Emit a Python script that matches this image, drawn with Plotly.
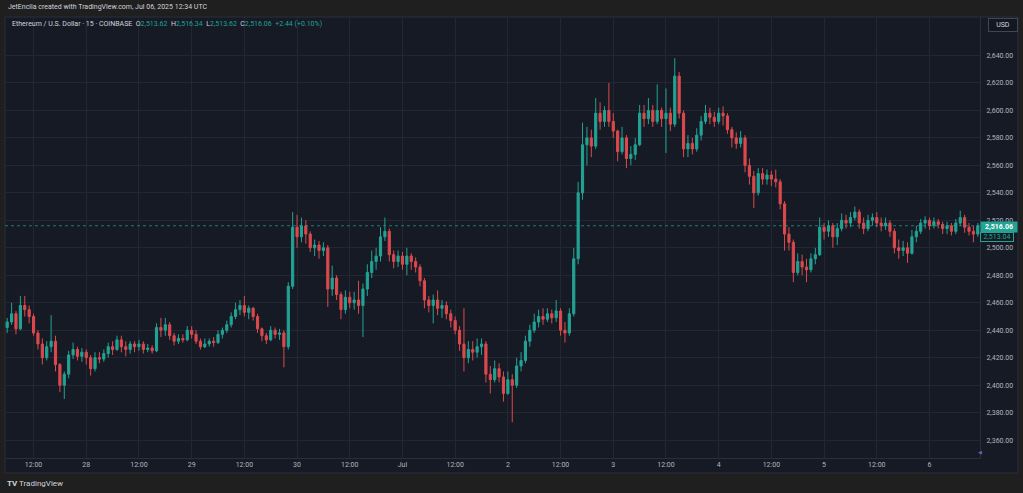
import pandas as pd
import plotly.graph_objects as go

# ETH/USD, COINBASE, resampled to 1h bars
start = "2025-06-27 06:00"

opens = [
    2442, 2446, 2452, 2441, 2458, 2455, 2450, 2438, 2430, 2420, 2428, 2432, 2415, 2400, 2408, 2422, 2426, 2421,  # Jun 27
    2424, 2420, 2412, 2420, 2419, 2423, 2428, 2426, 2433, 2428, 2426, 2430, 2428, 2430, 2426, 2427, 2425, 2442, 2440, 2444, 2436, 2432, 2434, 2433,  # Jun 28
    2440, 2437, 2432, 2428, 2430, 2432, 2431, 2437, 2440, 2444, 2450, 2455, 2458, 2453, 2456, 2450, 2441, 2436, 2433, 2440, 2437, 2438, 2428, 2472,  # Jun 29
    2515, 2508, 2516, 2510, 2500, 2502, 2498, 2500, 2470, 2478, 2466, 2455, 2464, 2460, 2462, 2458, 2470, 2482, 2490, 2494, 2508, 2512, 2495, 2490,  # Jun 30
    2494, 2488, 2494, 2490, 2486, 2476, 2462, 2458, 2462, 2456, 2458, 2452, 2447, 2440, 2430, 2420, 2426, 2424, 2428, 2430, 2408, 2404, 2412, 2406,  # Jul 1
    2394, 2404, 2400, 2414, 2418, 2432, 2440, 2446, 2450, 2448, 2452, 2449, 2454, 2440, 2438, 2452, 2492, 2540, 2575, 2580, 2574, 2598, 2592, 2600,  # Jul 2
    2592, 2585, 2570, 2580, 2565, 2568, 2575, 2598, 2594, 2600, 2592, 2600, 2594, 2598, 2590, 2625, 2598, 2572, 2576, 2572, 2582, 2592, 2598, 2595,  # Jul 3
    2592, 2598, 2596, 2586, 2580, 2576, 2580, 2560, 2552, 2540, 2554, 2550, 2553, 2550, 2548, 2532, 2510, 2504, 2482, 2490, 2486, 2484, 2492, 2495,  # Jul 4
    2515, 2512, 2516, 2508, 2514, 2520, 2518, 2522, 2526, 2518, 2514, 2520, 2522, 2518, 2516, 2518, 2512, 2500, 2498, 2500, 2496, 2508, 2512, 2518,  # Jul 5
    2520, 2516, 2519, 2517, 2514, 2516, 2512, 2518, 2522, 2515, 2512, 2510,  # Jul 6
]
highs = [
    2449, 2460, 2454, 2465, 2465, 2458, 2452, 2440, 2434, 2432, 2451, 2436, 2416, 2410, 2425, 2431, 2428, 2427,
    2426, 2422, 2424, 2424, 2426, 2431, 2432, 2436, 2436, 2432, 2432, 2432, 2433, 2432, 2430, 2429, 2445, 2449, 2449, 2446, 2438, 2437, 2437, 2443,
    2443, 2440, 2434, 2434, 2434, 2435, 2440, 2442, 2447, 2453, 2460, 2462, 2465, 2458, 2457, 2452, 2442, 2438, 2443, 2442, 2441, 2440, 2475, 2526,
    2524, 2522, 2520, 2512, 2506, 2505, 2504, 2502, 2487, 2480, 2468, 2469, 2468, 2468, 2476, 2474, 2488, 2498, 2500, 2515, 2522, 2514, 2498, 2498,
    2497, 2500, 2496, 2493, 2488, 2478, 2465, 2466, 2469, 2462, 2461, 2455, 2450, 2443, 2456, 2432, 2432, 2434, 2434, 2432, 2414, 2418, 2416, 2410,
    2410, 2408, 2420, 2424, 2436, 2444, 2452, 2455, 2456, 2456, 2455, 2462, 2456, 2446, 2456, 2500, 2548, 2591, 2588, 2586, 2609, 2606, 2603, 2620,
    2598, 2586, 2588, 2582, 2574, 2580, 2604, 2604, 2609, 2604, 2619, 2602, 2616, 2602, 2638, 2628, 2600, 2582, 2580, 2587, 2596, 2604, 2602, 2599,
    2602, 2603, 2598, 2588, 2584, 2585, 2582, 2565, 2556, 2558, 2558, 2557, 2556, 2557, 2550, 2534, 2515, 2506, 2496, 2495, 2492, 2496, 2500, 2522,
    2518, 2520, 2518, 2518, 2525, 2524, 2526, 2530, 2528, 2522, 2524, 2525, 2526, 2522, 2522, 2520, 2514, 2506, 2505, 2504, 2513, 2516, 2521, 2523,
    2522, 2522, 2521, 2519, 2519, 2518, 2521, 2527, 2524, 2518, 2516, 2518,
]
lows = [
    2438, 2444, 2437, 2440, 2450, 2445, 2436, 2426, 2415, 2418, 2424, 2410, 2395, 2390, 2405, 2419, 2418, 2417,
    2415, 2407, 2410, 2416, 2417, 2420, 2422, 2425, 2424, 2421, 2423, 2424, 2425, 2423, 2424, 2423, 2424, 2435, 2436, 2433, 2429, 2430, 2431, 2432,
    2434, 2430, 2426, 2427, 2428, 2428, 2430, 2434, 2438, 2442, 2448, 2451, 2450, 2448, 2447, 2438, 2432, 2430, 2432, 2434, 2433, 2413, 2426, 2470,
    2500, 2504, 2503, 2497, 2494, 2492, 2494, 2457, 2465, 2462, 2448, 2452, 2456, 2455, 2452, 2435, 2465, 2478, 2484, 2490, 2505, 2490, 2485, 2486,
    2484, 2480, 2484, 2482, 2472, 2456, 2453, 2445, 2451, 2449, 2448, 2442, 2437, 2425, 2410, 2416, 2418, 2420, 2422, 2402, 2394, 2402, 2402, 2388,
    2393, 2373, 2398, 2410, 2416, 2428, 2438, 2442, 2444, 2446, 2445, 2446, 2436, 2431, 2436, 2450, 2488, 2535, 2560, 2566, 2572, 2586, 2588, 2588,
    2580, 2563, 2568, 2558, 2560, 2564, 2574, 2588, 2590, 2588, 2590, 2588, 2569, 2585, 2588, 2594, 2566, 2566, 2568, 2570, 2578, 2590, 2590, 2588,
    2590, 2589, 2583, 2573, 2572, 2573, 2555, 2546, 2529, 2538, 2546, 2546, 2545, 2544, 2528, 2498, 2498, 2475, 2480, 2480, 2475, 2482, 2488, 2494,
    2506, 2508, 2500, 2502, 2512, 2514, 2515, 2520, 2514, 2510, 2512, 2516, 2515, 2512, 2513, 2508, 2496, 2492, 2494, 2489, 2495, 2504, 2510, 2514,
    2513, 2514, 2514, 2510, 2510, 2509, 2510, 2516, 2511, 2509, 2504, 2508,
]
closes = [
    2446, 2452, 2441, 2458, 2455, 2450, 2438, 2430, 2420, 2428, 2432, 2415, 2400, 2408, 2422, 2426, 2421, 2424,
    2420, 2412, 2420, 2419, 2423, 2428, 2426, 2433, 2428, 2426, 2430, 2428, 2430, 2426, 2427, 2425, 2442, 2440, 2444, 2436, 2432, 2434, 2433, 2440,
    2437, 2432, 2428, 2430, 2432, 2431, 2437, 2440, 2444, 2450, 2455, 2458, 2453, 2456, 2450, 2441, 2436, 2433, 2440, 2437, 2438, 2428, 2472, 2515,
    2508, 2516, 2510, 2500, 2502, 2498, 2500, 2470, 2478, 2466, 2455, 2464, 2460, 2462, 2458, 2470, 2482, 2490, 2494, 2508, 2512, 2495, 2490, 2494,
    2488, 2494, 2490, 2486, 2476, 2462, 2458, 2462, 2456, 2458, 2452, 2447, 2440, 2430, 2420, 2426, 2424, 2428, 2430, 2408, 2404, 2412, 2406, 2394,
    2404, 2400, 2414, 2418, 2432, 2440, 2446, 2450, 2448, 2452, 2449, 2454, 2440, 2438, 2452, 2492, 2540, 2575, 2580, 2574, 2598, 2592, 2600, 2592,
    2585, 2570, 2580, 2565, 2568, 2575, 2598, 2594, 2600, 2592, 2600, 2594, 2598, 2590, 2625, 2598, 2572, 2576, 2572, 2582, 2592, 2598, 2595, 2592,
    2598, 2596, 2586, 2580, 2576, 2580, 2560, 2552, 2540, 2554, 2550, 2553, 2550, 2548, 2532, 2510, 2504, 2482, 2490, 2486, 2484, 2492, 2495, 2515,
    2512, 2516, 2508, 2514, 2520, 2518, 2522, 2526, 2518, 2514, 2520, 2522, 2518, 2516, 2518, 2512, 2500, 2498, 2500, 2496, 2508, 2512, 2518, 2520,
    2516, 2519, 2517, 2514, 2516, 2512, 2518, 2522, 2515, 2512, 2510, 2516.06,
]

tick_times = pd.date_range("2025-06-27 12:00", "2025-07-06 00:00", freq="12h")
tick_labels = ["12:00", "28", "12:00", "29", "12:00", "30", "12:00", "Jul", "12:00",
               "2", "12:00", "3", "12:00", "4", "12:00", "5", "12:00", "6"]
price_ticks = [2360, 2380, 2400, 2420, 2440, 2460, 2480, 2500, 2520, 2540, 2560, 2580, 2600, 2620, 2640]

last_price = 2516.06
prev_price = 2513.04

UP = "#22a394"
DOWN = "#db4a4d"
PANE = "#161a25"
OUTER = "#1f1f1f"
GRID = "#232733"
TXT = "#b2b5be"
FONT = "Roboto"

times = pd.date_range(start, periods=len(closes), freq="h")

fig = go.Figure(go.Candlestick(
    x=times, open=opens, high=highs, low=lows, close=closes,
    increasing=dict(line=dict(color=UP, width=1), fillcolor=UP),
    decreasing=dict(line=dict(color=DOWN, width=1), fillcolor=DOWN),
    whiskerwidth=0, showlegend=False,
))

# plot area is 975 x 441 px; these convert pixel offsets to paper coords
pw, ph = 975.0, 441.0

fig.update_layout(
    width=1023, height=493,
    margin=dict(l=5, r=43, t=17, b=35),
    paper_bgcolor=OUTER, plot_bgcolor=PANE,
    font=dict(family=FONT, size=7, color=TXT),
    xaxis=dict(
        type="date", range=["2025-06-27 05:30", "2025-07-06 11:30"],
        tickvals=tick_times, ticktext=tick_labels,
        showgrid=True, gridcolor=GRID, gridwidth=1,
        showline=True, linecolor="#2a2e39", ticks="", zeroline=False,
        rangeslider=dict(visible=False), tickfont=dict(size=7, color=TXT),
    ),
    yaxis=dict(
        side="right", range=[2347, 2668], tickvals=price_ticks, tickformat=",.2f",
        showgrid=True, gridcolor=GRID, gridwidth=1,
        showline=True, linecolor="#2a2e39", ticks="", zeroline=False,
        tickfont=dict(size=7, color=TXT), ticklabelstandoff=4,
    ),
    shapes=[
        dict(type="rect", xref="paper", yref="paper", x0=0, x1=1013 / pw, y0=-15 / ph, y1=1,
             fillcolor=PANE, line=dict(color="#2a2e39", width=1), layer="below"),
        dict(type="line", xref="paper", yref="y", x0=0, x1=1, y0=last_price, y1=last_price,
             line=dict(color=UP, width=1, dash="dot"), opacity=0.7),
    ],
)

ohlc = ("Ethereum / U.S. Dollar · 15 · COINBASE  "
        f"O<span style='color:{UP}'>2,513.62</span>  H<span style='color:{UP}'>2,516.34</span>  "
        f"L<span style='color:{UP}'>2,513.62</span>  C<span style='color:{UP}'>2,516.06</span>  "
        f"<span style='color:{UP}'>+2.44 (+0.10%)</span>")

fig.add_annotation(x=1 / pw, y=1 + 10 / ph, xref="paper", yref="paper", xanchor="left", yanchor="middle",
                   text="JetEncila created with TradingView.com, Jul 06, 2025 12:34 UTC",
                   showarrow=False, font=dict(size=7, color="#d1d4dc"))
fig.add_annotation(x=5 / pw, y=1 - 7 / ph, xref="paper", yref="paper", xanchor="left", yanchor="middle",
                   text=ohlc, showarrow=False, font=dict(size=7, color="#d1d4dc"))
fig.add_annotation(x=998 / pw, y=1 - 8 / ph, xref="paper", yref="paper", xanchor="center", yanchor="middle",
                   text="USD", showarrow=False, font=dict(size=7, color="#d1d4dc"),
                   bgcolor="#131722", bordercolor="#434651", borderwidth=1, borderpad=2, width=24)
fig.add_annotation(x=1, y=last_price, xref="paper", yref="y", xanchor="left", yanchor="middle", yshift=-1,
                   text="<b>2,516.06</b>", showarrow=False, font=dict(size=7, color="white"),
                   bgcolor=UP, borderpad=1, width=34)
fig.add_annotation(x=1, y=last_price, xref="paper", yref="y", xanchor="left", yanchor="middle", yshift=-11,
                   text=f"{prev_price:,.2f}", showarrow=False, font=dict(size=7, color=UP),
                   bgcolor=PANE, bordercolor=UP, borderwidth=1, borderpad=0, width=32)
fig.add_annotation(x=1, y=6 / ph, xref="paper", yref="paper", xanchor="center", yanchor="middle",
                   text="◀", showarrow=False, font=dict(size=5, color="#7e57c2"))
fig.add_annotation(x=0, y=-25 / ph, xref="paper", yref="paper", xanchor="left", yanchor="middle",
                   text="<b>TV</b> TradingView", showarrow=False, font=dict(size=8, color="#d1d4dc"))

# page body has a default 8px margin; drop it so the figure sits at the window corner
fig.write_html("out.html", config={"displayModeBar": False},
               post_script="document.body.style.margin='0';")
